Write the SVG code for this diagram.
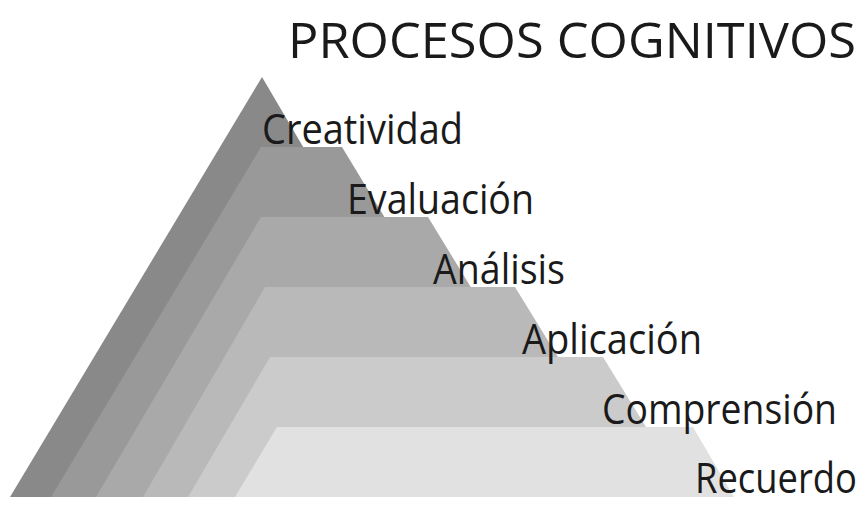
<svg xmlns="http://www.w3.org/2000/svg" width="865" height="509" viewBox="0 0 865 509">
<style>
.lbl{font-family:"Open Sans","Noto Sans","Liberation Sans",sans-serif;font-size:42px;fill:#1a1a1a}
.title{font-family:"Open Sans","Noto Sans","Liberation Sans",sans-serif;font-size:50px;fill:#1a1a1a}
</style>
<rect width="865" height="509" fill="#ffffff"/>
<text class="title" x="288" y="58" textLength="568" lengthAdjust="spacingAndGlyphs">PROCESOS COGNITIVOS</text>
<g id="layer-creatividad"><polygon points="262,77 509,497 10,497" fill="#898989"/></g>
<g id="layer-evaluacion"><polygon points="261,147 342,147 554,497 51,497" fill="#999999"/></g>
<g id="layer-analisis"><polygon points="261,217 428,217 599,497 96,497" fill="#a9a9a9"/></g>
<g id="layer-aplicacion"><polygon points="265,287 515,287 644,497 143,497" fill="#b9b9b9"/></g>
<g id="layer-comprension"><polygon points="270,357 603,357 689,497 188,497" fill="#cbcbcb"/></g>
<g id="layer-recuerdo"><polygon points="277,427 693,427 734,497 235,497" fill="#e1e1e1"/></g>
<g id="labels">
<text class="lbl" x="262" y="144" textLength="201" lengthAdjust="spacingAndGlyphs">Creatividad</text>
<text class="lbl" x="347" y="214" textLength="187" lengthAdjust="spacingAndGlyphs">Evaluación</text>
<text class="lbl" x="433" y="284" textLength="132" lengthAdjust="spacingAndGlyphs">Análisis</text>
<text class="lbl" x="522" y="354" textLength="180" lengthAdjust="spacingAndGlyphs">Aplicación</text>
<text class="lbl" x="602" y="424" textLength="235" lengthAdjust="spacingAndGlyphs">Comprensión</text>
<text class="lbl" x="695" y="493" textLength="162" lengthAdjust="spacingAndGlyphs">Recuerdo</text>
</g>
</svg>
